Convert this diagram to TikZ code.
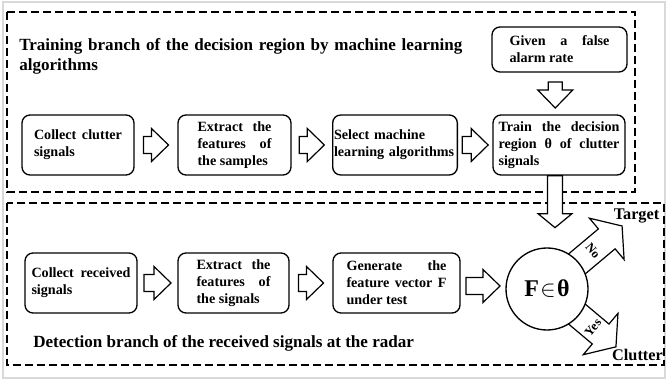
\documentclass[tikz,border=0pt]{standalone}
\usepackage{fontspec}
\setmainfont{Liberation Serif}
\usetikzlibrary{calc,backgrounds}
\hyphenpenalty=10000
\exhyphenpenalty=10000

\tikzset{
  stage/.style={draw,line width=1pt,rounded corners=6pt,minimum height=45pt,inner sep=1pt,align=justify,
    font=\fontsize{10.6}{12.75}\selectfont\bfseries},
  branch/.style={draw,line width=1pt,dash pattern=on 6pt off 3pt},
  hollowline/.style={draw,line width=0.9pt,fill=white,line join=miter},
  bigtitle/.style={inner sep=0pt,font=\fontsize{12.8}{15}\selectfont\bfseries},
  small/.style={inner sep=0pt,font=\fontsize{9.5}{11}\selectfont\bfseries},
  pics/hollow/.style n args={4}{code={
    \path[hollowline] (-#1/2,-#3) -- ({#1/2-#2},-#3) -- ({#1/2-#2},-#4) -- (#1/2,0)
      -- ({#1/2-#2},#4) -- ({#1/2-#2},#3) -- (-#1/2,#3) -- cycle;
  }}
}

\begin{document}
\begin{tikzpicture}[x=0.75pt,y=-0.75pt]
\useasboundingbox (0,0) rectangle (667,384);
\draw[gray!30,line width=0.8pt] (3,2) rectangle (665,378);
\draw[branch] (7,12) rectangle (635,192);
\draw[branch] (7,203) rectangle (664,365);

\node[bigtitle,text width=352.5pt,align=left,anchor=north west] (train) at (19,38.5)
  {Training branch of the decision region by machine learning algorithms};
\node[bigtitle,anchor=base west] (detect) at (33,348)
  {Detection branch of the received signals at the radar};

\node[stage,minimum width=101.25pt,minimum height=33.75pt,text width=75pt] (alarm) at (559.5,49.5) {Given a false alarm rate};
\node[stage,minimum width=84pt,text width=66pt] (clutter) at (78,145) {Collect clutter signals};
\node[stage,minimum width=84.75pt,text width=55.5pt] (extract) at (234.5,145) {Extract the features of the samples};
\node[stage,minimum width=93pt,text width=91.5pt,align=left] (select) at (395,145) {Select machine learning algorithms};
\node[stage,minimum width=99pt,text width=90.75pt] (region) at (559,145) {Train the decision region θ of clutter signals};

\node[stage,minimum width=84pt,text width=74.25pt] (received) at (81,283) {Collect received signals};
\node[stage,minimum width=83.25pt,text width=55.5pt] (features) at (233.5,283) {Extract the features of the signals};
\node[stage,minimum width=95.25pt,text width=75pt] (vector) at (396.5,283) {Generate the feature vector F under test};
\node[draw,circle,line width=1pt,fill=white,minimum size=61.5pt,inner sep=0pt] (test) at (547,289) {};
\node[inner sep=0pt,font=\fontsize{18}{20}\selectfont\bfseries] (rule) at (test.center) {F\kern1pt$\in$\kern1ptθ};

\pic at ($(clutter.east)!0.5!(extract.west)$) {hollow={25}{17}{8.5}{16.5}};
\pic at ($(extract.east)!0.5!(select.west)$) {hollow={25}{17}{8.5}{16.5}};
\pic at ($(select.east)!0.5!(region.west)$) {hollow={26}{17}{8.5}{16.5}};
\pic[rotate=-90] at ($(alarm.south)!0.5!(region.north)+(-4,1.5)$) {hollow={26}{18}{7}{17.5}};
\pic[rotate=-90] at ($(region.south)+(-4,26)$) {hollow={52}{14}{7.5}{17}};
\pic at ($(received.east)!0.5!(features.west)$) {hollow={27}{17}{8.5}{16.5}};
\pic at ($(features.east)!0.5!(vector.west)$) {hollow={25}{17}{8.5}{16.5}};
\pic at ($(vector.east)!0.5!(test.west)$) {hollow={34}{17}{8.5}{16.5}};

\begin{scope}[on background layer]
\pic[rotate=40] at ($(test.center)+(-40:49)$) {hollow={98}{20}{13}{27}};
\pic[rotate=-40] at ($(test.center)+(40:45)$) {hollow={90}{20}{13}{27}};
\end{scope}

\node[small,rotate=-50] (no) at ($(test.center)+(-40:60)$) {No};
\node[small,rotate=50] (yes) at ($(test.center)+(40:60)$) {Yes};
\node[font=\fontsize{12.2}{14}\selectfont\bfseries,anchor=base,inner sep=0pt] (target) at (636.5,220) {Target};
\node[font=\fontsize{12.2}{14}\selectfont\bfseries,anchor=base,inner sep=0pt] (clut) at (637.5,360) {Clutter};
\end{tikzpicture}
\end{document}
